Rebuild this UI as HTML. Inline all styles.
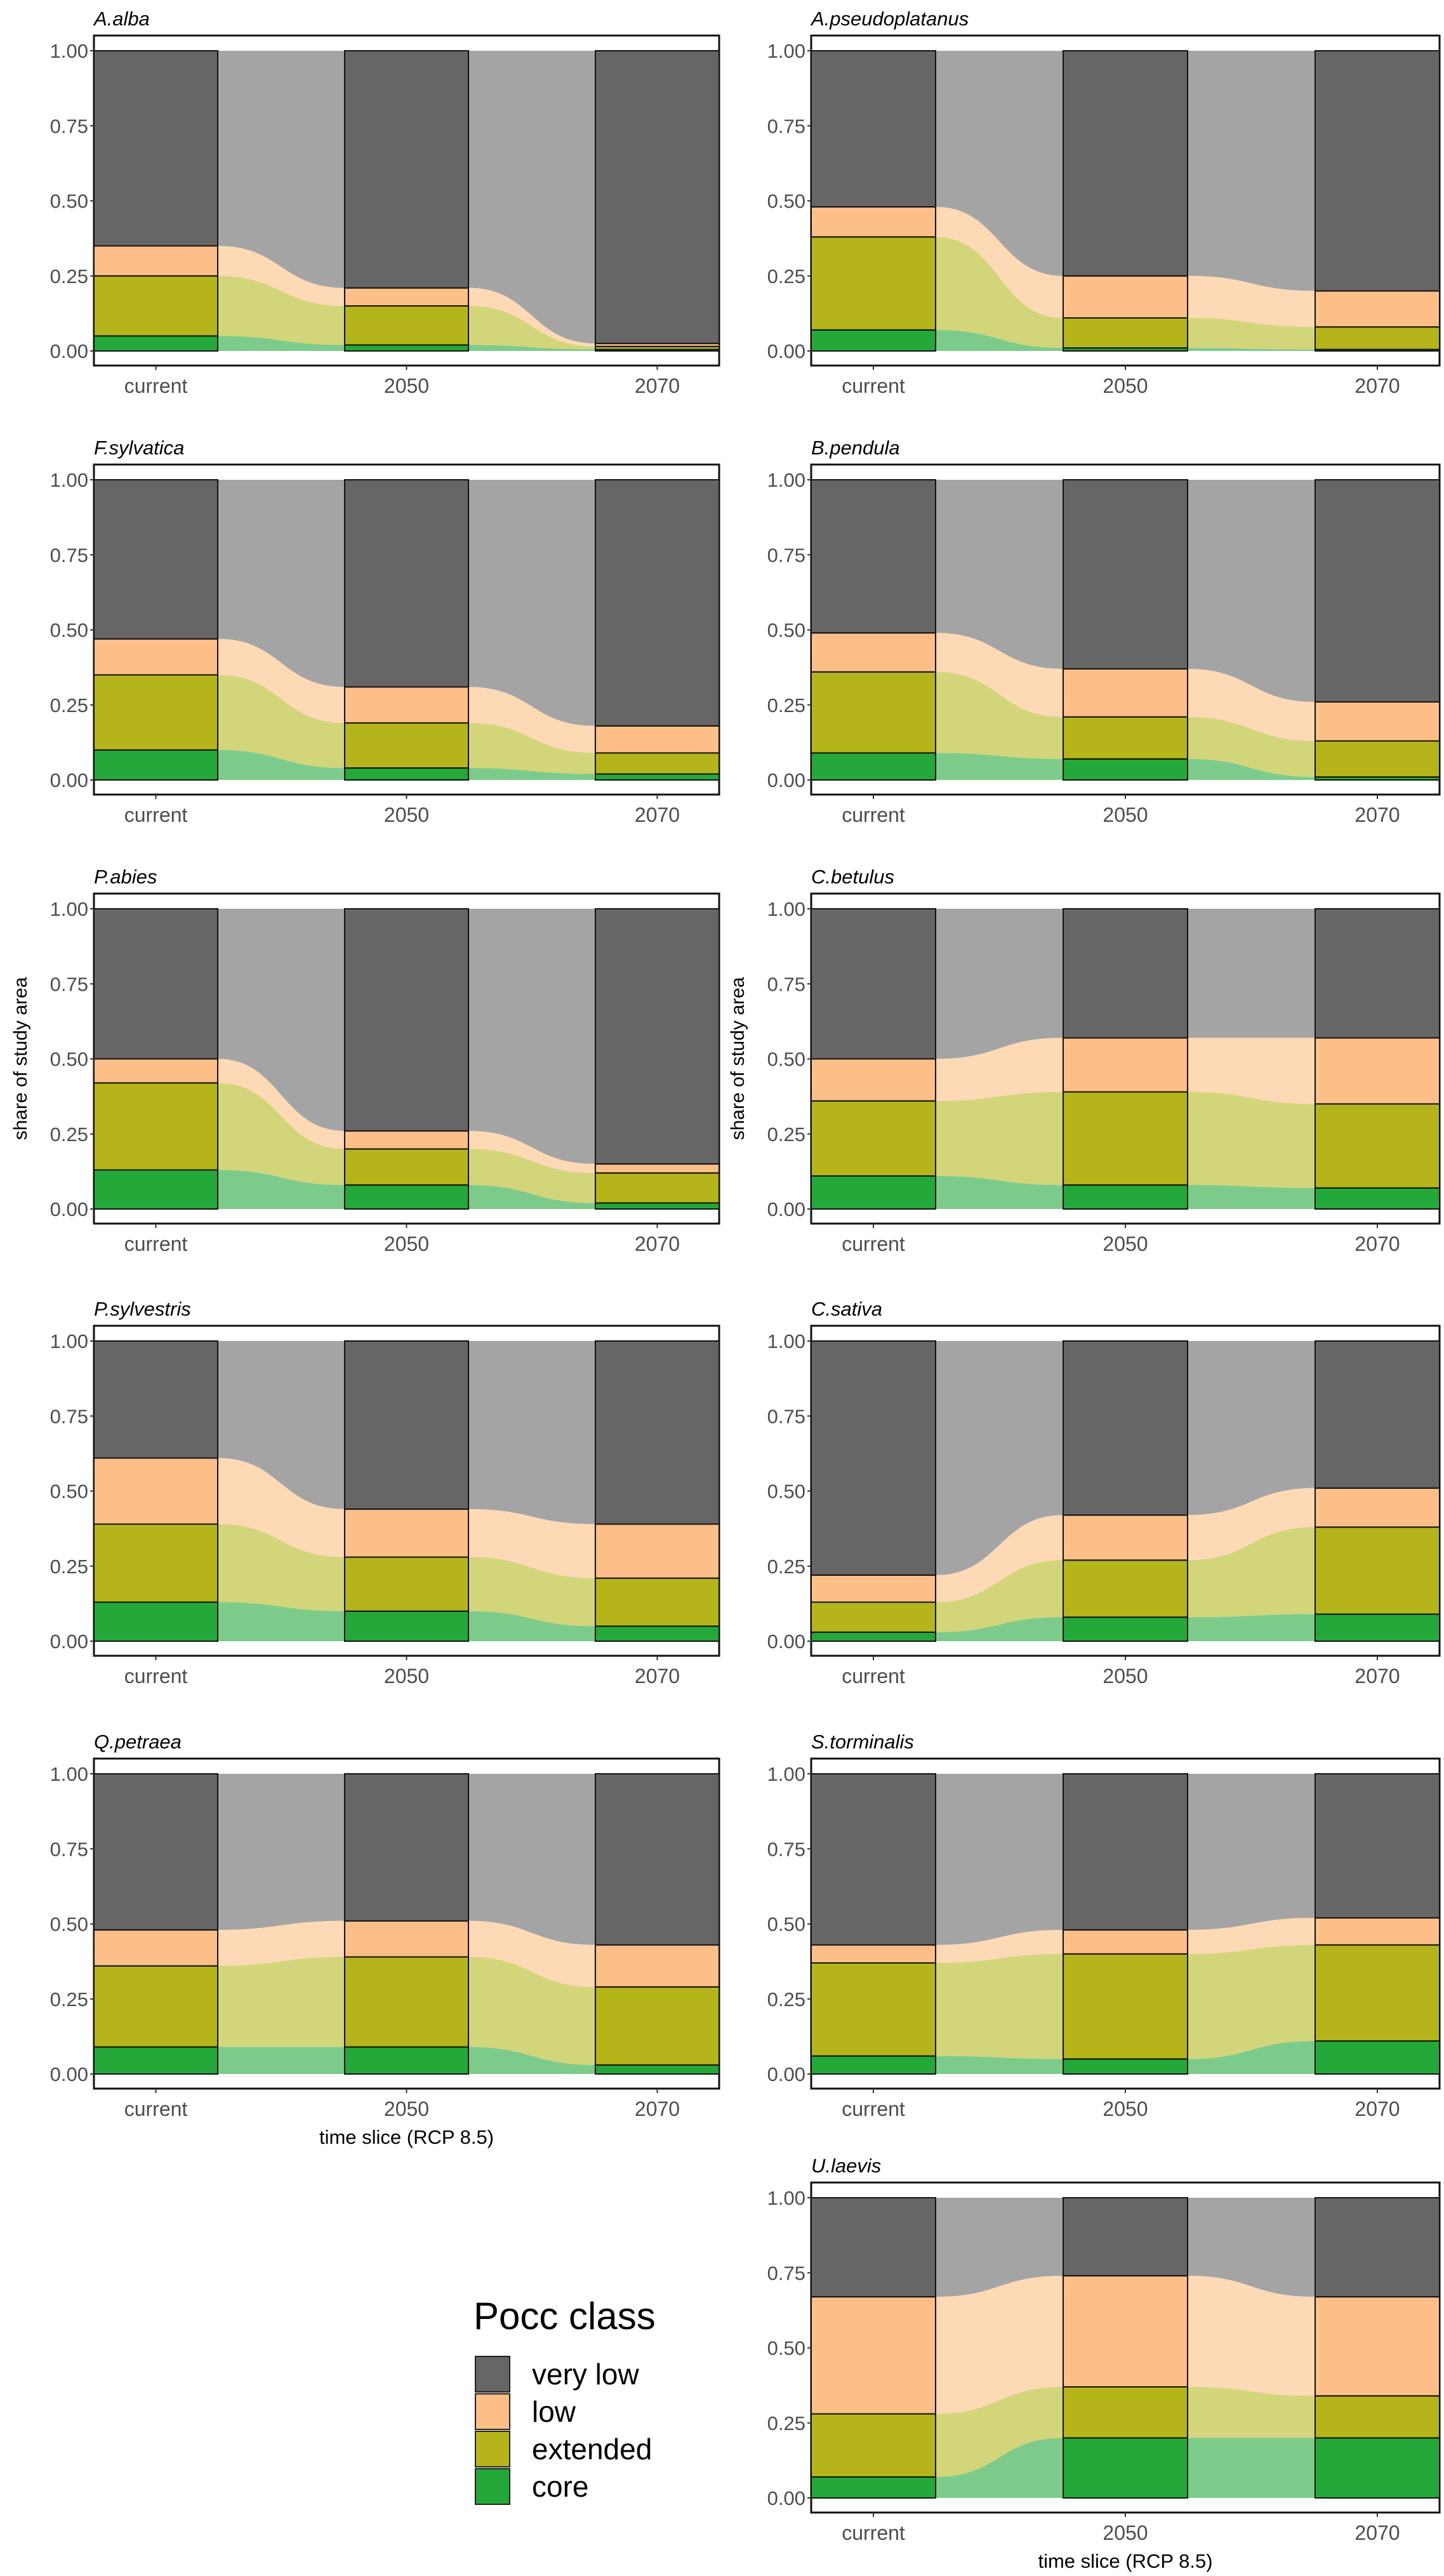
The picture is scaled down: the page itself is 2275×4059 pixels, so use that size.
<!DOCTYPE html>
<html><head><meta charset="utf-8">
<style>
html,body{margin:0;padding:0;background:#fff;}
svg{display:block;font-family:"Liberation Sans",sans-serif;}
</style></head>
<body>
<svg id="chart" width="2275" height="4059" viewBox="0 0 2275 4059" xmlns="http://www.w3.org/2000/svg">
<g>
  <text x="746" y="3670" font-size="60" fill="#000">Pocc class</text>
  <rect x="749" y="3713" width="54" height="56" fill="#666666" stroke="#222" stroke-width="2"/>
  <text x="838" y="3757" font-size="46" fill="#000">very low</text>
  <rect x="749" y="3772" width="54" height="56" fill="#fdbf87" stroke="#222" stroke-width="2"/>
  <text x="838" y="3816" font-size="46" fill="#000">low</text>
  <rect x="749" y="3831" width="54" height="56" fill="#b5b51b" stroke="#222" stroke-width="2"/>
  <text x="838" y="3875" font-size="46" fill="#000">extended</text>
  <rect x="749" y="3890" width="54" height="56" fill="#25a83a" stroke="#222" stroke-width="2"/>
  <text x="838" y="3934" font-size="46" fill="#000">core</text>
</g>
</svg>
<script>
// Species panels and cumulative class tops [core, extended, low] for current, 2050, 2070
const species = ["A.alba","A.pseudoplatanus","F.sylvatica","B.pendula","P.abies","C.betulus","P.sylvestris","C.sativa","Q.petraea","S.torminalis","U.laevis"];
const timeSlices = ["current","2050","2070"];
const yTicks = [0, 0.25, 0.5, 0.75, 1];
const yTickLabels = ["0.00","0.25","0.50","0.75","1.00"];
const classNames = ["core","extended","low","very-low"];
const coreTop = [[0.05,0.02,0.005],[0.07,0.01,0.005],[0.10,0.04,0.02],[0.09,0.07,0.01],[0.13,0.08,0.02],[0.11,0.08,0.07],[0.13,0.10,0.05],[0.03,0.08,0.09],[0.09,0.09,0.03],[0.06,0.05,0.11],[0.07,0.20,0.20]];
const extendedTop = [[0.25,0.15,0.015],[0.38,0.11,0.08],[0.35,0.19,0.09],[0.36,0.21,0.13],[0.42,0.20,0.12],[0.36,0.39,0.35],[0.39,0.28,0.21],[0.13,0.27,0.38],[0.36,0.39,0.29],[0.37,0.40,0.43],[0.28,0.37,0.34]];
const lowTop = [[0.35,0.21,0.025],[0.48,0.25,0.20],[0.47,0.31,0.18],[0.49,0.37,0.26],[0.50,0.26,0.15],[0.50,0.57,0.57],[0.61,0.44,0.39],[0.22,0.42,0.51],[0.48,0.51,0.43],[0.43,0.48,0.52],[0.67,0.74,0.67]];

const barColors = ["#25a83a","#b5b51b","#fdbf87","#666666"];
const flowColors = ["#7dcb8a","#d3d57a","#fdd9b5","#a4a4a4"];
// panel layout: [column, row]
const layout = [[0,0],[1,0],[0,1],[1,1],[0,2],[1,2],[0,3],[1,3],[0,4],[1,4],[1,5]];
const colX = [148, 1278];
const colW = [985, 990];
const rowTop = [56, 732, 1408, 2089, 2771, 3439];
const NS = "http://www.w3.org/2000/svg";
const svg = document.getElementById("chart");
function mk(tag, attrs, parent){const e=document.createElementNS(NS,tag);for(const k in attrs)e.setAttribute(k,attrs[k]);(parent||svg).appendChild(e);return e;}

species.forEach((sp, i) => {
  const [c, r] = layout[i];
  const x0 = colX[c], W = colW[c], top = rowTop[r];
  const y = v => top + 497 - v * 473;
  const bw = W * 0.198;
  const bx = j => x0 + j * (W - bw) / 2;
  const g = mk("g", {});
  
  
  const t = mk("text", {x: x0, y: top - 16, "font-size": 31, "font-style": "italic", fill: "#000"}, g);
  t.textContent = sp;
  
  
  const box = mk("rect", {x: x0, y: top, width: W, height: 520, fill: "#fff", stroke: "#111", "stroke-width": 3}, g);
  
  
  const bounds = j => [0, coreTop[i][j], extendedTop[i][j], lowTop[i][j], 1];
  for (let j = 0; j < 2; j++) {
    const a = bounds(j), b = bounds(j + 1);
    const xa = bx(j) + bw, xb = bx(j + 1), xm = (xa + xb) / 2;
    for (let k = 3; k >= 0; k--) {
      const d = `M${xa},${y(a[k+1])} C${xm},${y(a[k+1])} ${xm},${y(b[k+1])} ${xb},${y(b[k+1])} L${xb},${y(b[k])} C${xm},${y(b[k])} ${xm},${y(a[k])} ${xa},${y(a[k])} Z`;
      const p = mk("path", {d: d, fill: flowColors[k]}, g);
      
      
    }
  }
  for (let j = 0; j < 3; j++) {
    const bd = bounds(j);
    for (let k = 0; k < 4; k++) {
      const rr = mk("rect", {x: bx(j), y: y(bd[k+1]), width: bw, height: Math.max(0, y(bd[k]) - y(bd[k+1])), fill: barColors[k], stroke: "#111", "stroke-width": 2}, g);
      
      
    }
    const tk = mk("line", {x1: bx(j) + bw/2, x2: bx(j) + bw/2, y1: top + 520, y2: top + 527, stroke: "#333", "stroke-width": 2}, g);
    
    
    const tl = mk("text", {x: bx(j) + bw/2, y: top + 563, "font-size": 32, fill: "#4d4d4d", "text-anchor": "middle"}, g);
    tl.textContent = timeSlices[j];
    
    
  }
  yTicks.forEach((v, q) => {
    const tk = mk("line", {x1: x0 - 6, x2: x0, y1: y(v), y2: y(v), stroke: "#333", "stroke-width": 2}, g);
    
    
    const tl = mk("text", {x: x0 - 9, y: y(v) + 11, "font-size": 31, fill: "#4d4d4d", "text-anchor": "end"}, g);
    tl.textContent = yTickLabels[q];
    
    
  });
  if (r === 2) {
    const yt = mk("text", {x: 0, y: 0, "font-size": 30, fill: "#000", "text-anchor": "middle", transform: `translate(${x0 - 106},${top + 260}) rotate(-90)`}, g);
    yt.textContent = "share of study area";
    
    
  }
  if ((c === 0 && r === 4) || (c === 1 && r === 5)) {
    const xt = mk("text", {x: x0 + W/2, y: top + 607, "font-size": 31, fill: "#000", "text-anchor": "middle"}, g);
    xt.textContent = "time slice (RCP 8.5)";
    
    
  }
});
</script>
</body></html>
